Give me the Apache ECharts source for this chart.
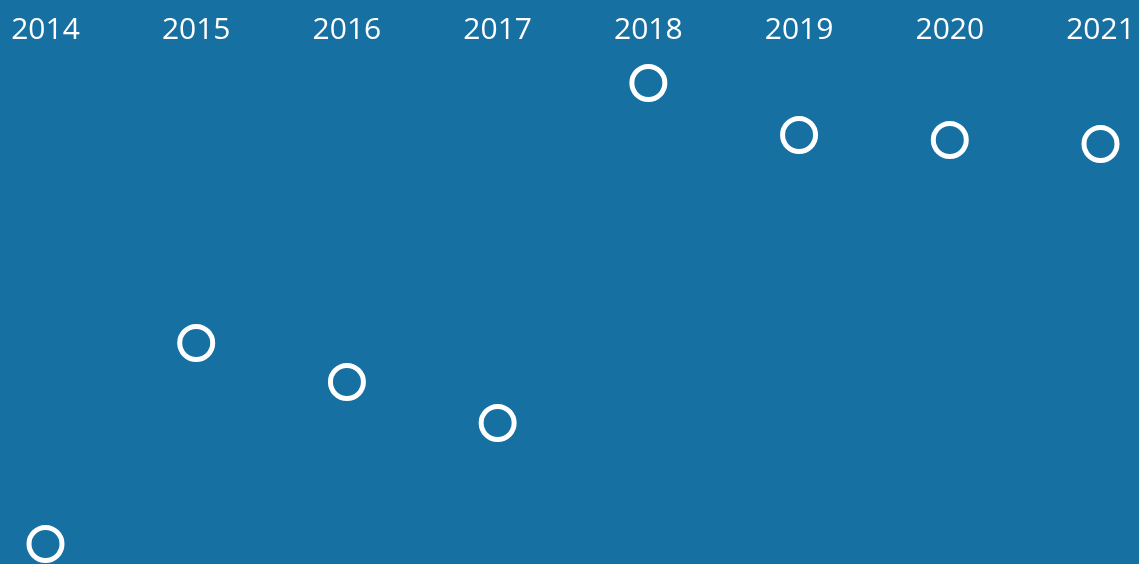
<!DOCTYPE html>
<html>
<head>
<meta charset="utf-8">
<script src="https://cdn.jsdelivr.net/npm/echarts@6/dist/echarts.min.js"></script>
<style>
html,body{margin:0;padding:0;background:#1670a2;}
#chart{width:1139px;height:564px;}
</style>
</head>
<body>
<div id="chart"></div>
<script>
const years = ['2014','2015','2016','2017','2018','2019','2020','2021'];
const values = [4, 44.2, 36.4, 28.2, 96.2, 85.8, 84.8, 84];

const chart = echarts.init(document.getElementById('chart'));
chart.setOption({
  backgroundColor: '#1670a2',
  animation: false,
  grid: {left: 45.5, right: 38.5, top: 64, bottom: 0},
  xAxis: {
    type: 'category',
    data: years,
    position: 'top',
    boundaryGap: false,
    axisLine: {show: false},
    axisTick: {show: false},
    splitLine: {show: false},
    axisLabel: {color: '#ffffff', fontSize: 30, fontFamily: 'Open Sans', margin: 19, interval: 0}
  },
  yAxis: {
    type: 'value',
    min: 0,
    max: 100,
    show: false
  },
  series: [{
    type: 'scatter',
    data: values,
    symbol: 'circle',
    symbolSize: 33,
    itemStyle: {color: '#1670a2', borderColor: '#ffffff', borderWidth: 5, opacity: 1}
  }]
});
</script>
</body>
</html>
